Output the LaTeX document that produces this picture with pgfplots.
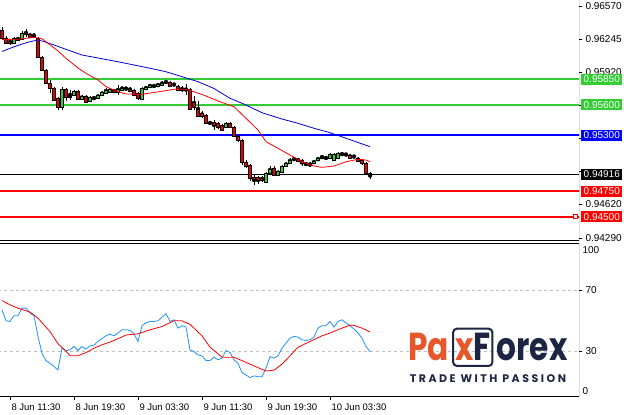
\documentclass[border=0pt]{standalone}
\usepackage{fontspec}
\setmainfont{Liberation Sans}
\newfontfamily\logofont{Poppins}[FakeStretch=0.8]
\newfontfamily\tagfont{Poppins}[LetterSpace=23]
\usepackage{pgfplots}
\usepackage{pgfplotstable}
\pgfplotsset{compat=1.18}

\definecolor{bull}{RGB}{50,205,50}
\definecolor{bear}{RGB}{230,0,0}
\definecolor{lvgreen}{RGB}{50,205,50}
\definecolor{lvblue}{RGB}{0,0,255}
\definecolor{lvred}{RGB}{255,0,0}
\definecolor{mablue}{RGB}{0,0,220}
\definecolor{oscblue}{RGB}{30,144,255}
\definecolor{paxorange}{RGB}{232,87,42}
\definecolor{paxnavy}{RGB}{28,37,65}

% M30 bars, index i = bar number
\pgfplotstableread{
i o h l c
0 0.96334 0.96364 0.96236 0.96256
1 0.96256 0.96275 0.96197 0.96206
2 0.96226 0.96246 0.96187 0.96206
3 0.96206 0.96265 0.96197 0.96256
4 0.96236 0.96265 0.96226 0.96246
5 0.96246 0.96324 0.96236 0.96305
6 0.96305 0.96344 0.96265 0.96295
7 0.96295 0.96305 0.96256 0.96265
8 0.96275 0.96305 0.96256 0.96265
9 0.96256 0.96265 0.96059 0.96069
10 0.96069 0.96079 0.95931 0.95941
11 0.95941 0.95951 0.95804 0.95813
12 0.95813 0.95843 0.95715 0.95764
13 0.95764 0.95774 0.95637 0.95646
14 0.95666 0.95676 0.95548 0.95578
15 0.95578 0.95774 0.95548 0.95754
16 0.95754 0.95764 0.95637 0.95676
17 0.95686 0.95745 0.95646 0.95676
18 0.95696 0.95745 0.95686 0.95735
19 0.95735 0.95745 0.95646 0.95656
20 0.95656 0.95696 0.95646 0.95686
21 0.95686 0.95696 0.95617 0.95627
22 0.95637 0.95686 0.95627 0.95676
23 0.95666 0.95686 0.95646 0.95666
24 0.95666 0.95705 0.95656 0.95696
25 0.95696 0.95735 0.95686 0.95725
26 0.95715 0.95764 0.95705 0.95745
27 0.95725 0.95764 0.95715 0.95754
28 0.95745 0.95754 0.95715 0.95725
29 0.95725 0.95794 0.95696 0.95754
30 0.95745 0.95784 0.95735 0.95764
31 0.95754 0.95774 0.95745 0.95754
32 0.95754 0.95774 0.95725 0.95735
33 0.95745 0.95754 0.95686 0.95696
34 0.95715 0.95725 0.95646 0.95666
35 0.95656 0.95774 0.95646 0.95764
36 0.95754 0.95784 0.95745 0.95774
37 0.95774 0.95804 0.95764 0.95794
38 0.95784 0.95804 0.95764 0.95794
39 0.95784 0.95813 0.95774 0.95804
40 0.95794 0.95833 0.95784 0.95813
41 0.95823 0.95843 0.95804 0.95823
42 0.95823 0.95833 0.95774 0.95784
43 0.95804 0.95813 0.95784 0.95804
44 0.95784 0.95794 0.95735 0.95745
45 0.95745 0.95784 0.95725 0.95754
46 0.95754 0.95804 0.95696 0.95764
47 0.95754 0.95764 0.95548 0.95558
48 0.95627 0.95686 0.95548 0.95578
49 0.95558 0.95637 0.95479 0.95489
50 0.95519 0.95538 0.95470 0.95489
51 0.95499 0.95509 0.95411 0.95420
52 0.95420 0.95440 0.95401 0.95420
53 0.95430 0.95450 0.95352 0.95401
54 0.95420 0.95430 0.95361 0.95381
55 0.95401 0.95411 0.95342 0.95352
56 0.95381 0.95430 0.95371 0.95420
57 0.95420 0.95430 0.95371 0.95381
58 0.95381 0.95391 0.95283 0.95293
59 0.95293 0.95302 0.95234 0.95253
60 0.95253 0.95263 0.95008 0.95037
61 0.95037 0.95057 0.94978 0.94998
62 0.95008 0.95018 0.94850 0.94880
63 0.94890 0.94909 0.94811 0.94870
64 0.94890 0.94900 0.94820 0.94860
65 0.94880 0.94900 0.94840 0.94860
66 0.94840 0.94939 0.94830 0.94929
67 0.94929 0.94998 0.94919 0.94968
68 0.94978 0.94998 0.94900 0.94909
69 0.94909 0.94959 0.94900 0.94949
70 0.94939 0.95008 0.94929 0.94998
71 0.94998 0.95037 0.94988 0.95027
72 0.95027 0.95076 0.95018 0.95057
73 0.95067 0.95086 0.95047 0.95067
74 0.95067 0.95076 0.95037 0.95047
75 0.95057 0.95067 0.94998 0.95027
76 0.95018 0.95037 0.94998 0.95018
77 0.95027 0.95037 0.94988 0.95008
78 0.95027 0.95057 0.95018 0.95047
79 0.95057 0.95086 0.95047 0.95076
80 0.95076 0.95106 0.95067 0.95086
81 0.95086 0.95096 0.95057 0.95086
82 0.95076 0.95126 0.95067 0.95116
83 0.95057 0.95126 0.95047 0.95116
84 0.95076 0.95135 0.95067 0.95126
85 0.95116 0.95135 0.95096 0.95116
86 0.95116 0.95126 0.95096 0.95106
87 0.95106 0.95116 0.95067 0.95076
88 0.95086 0.95106 0.95076 0.95086
89 0.95076 0.95086 0.95037 0.95047
90 0.95057 0.95067 0.95008 0.95027
91 0.95027 0.95037 0.94919 0.94929
92 0.94929 0.94939 0.94870 0.94916
}\candles

\pgfplotstableread{
i p
0 0.96241
4 0.96243
8 0.96262
10 0.96248
11 0.96219
14 0.96128
16 0.96056
19 0.95961
21 0.95908
24 0.95843
26 0.95777
29 0.95728
31 0.95705
35 0.95702
40 0.95732
43 0.95751
46 0.95751
48 0.95728
51 0.95685
55 0.95621
58 0.95580
61 0.95466
64 0.95351
66 0.95236
69 0.95171
72 0.95105
75 0.95039
78 0.94997
80 0.94984
83 0.94997
86 0.95039
89 0.95063
91 0.95056
92 0.95039
}\mafast

\pgfplotstableread{
i p
0 0.96123
2 0.96154
5 0.96196
7 0.96219
9 0.96236
10 0.96226
13 0.96187
16 0.96144
20 0.96088
24 0.96059
29 0.96022
33 0.95990
37 0.95958
41 0.95924
45 0.95875
49 0.95826
53 0.95759
57 0.95663
61 0.95597
65 0.95521
70 0.95459
74 0.95417
78 0.95368
82 0.95325
86 0.95270
92 0.95187
}\maslow

\pgfplotstableread{
i v
0 57
1 49.8
2 49.4
3 53.1
4 53.1
5 58.1
6 58.1
7 54.9
8 53.1
9 39.6
10 28.6
11 23.8
12 22
13 19.9
14 17.7
15 31.9
16 30.2
17 30.8
18 33
19 30.4
20 33
21 31.3
22 33.4
23 33.9
24 36.3
25 38.3
26 40
27 41.1
28 40
29 41.8
30 44
31 44
32 43.5
33 41.3
34 36.3
35 46.6
36 48.4
37 49.4
38 49.4
39 49.8
40 52.2
41 54.4
42 49.4
43 50.5
44 45
45 46.6
46 45.7
47 30.8
48 29.7
49 27.5
50 26.9
51 23.8
52 23.8
53 26
54 24.3
55 25.4
56 30.4
57 29.1
58 24.3
59 22
60 15.9
61 14.4
62 12.7
63 13.8
64 13.3
65 13.3
66 18.8
67 26.4
68 25.4
69 26.9
70 31.9
71 35.2
72 38.5
73 39.6
74 39.2
75 37.4
76 37
77 37.4
78 39.2
79 45
80 46.6
81 46.6
82 49.4
83 45.7
84 49.4
85 50.5
86 48.4
87 46.6
88 44.4
89 41.8
90 38.5
91 33
92 29.7
}\oscmain

\pgfplotstableread{
i v
0 63
2 60.3
4 58
7 55.5
9 51.5
12 42.8
14 34.8
16 30
17 27
19 27
21 29
23 31.9
25 34.1
28 36.9
31 40.5
34 41.3
37 43.9
40 46.1
43 49.8
45 49.8
47 47.5
50 40
52 32.6
55 26
58 26
60 23.8
63 20.3
66 17
68 17.5
70 21.5
72 26.9
74 32.5
77 36.3
80 40
82 41.8
84 44
87 47
88 46.8
90 45
92 42.5
}\oscsignal

\pgfplotsset{
  panel/.style={scale only axis, width=579pt, xmin=-0.5, xmax=144.25,
    axis line style={draw=none},
    tick label style={font=\fontsize{10}{12}\selectfont},
    tick style={black, line width=0.6pt},
    tick align=outside, major tick length=3pt},
  price/.style={panel, height=241pt, at={(0pt,174pt)}, anchor=south west,
    ymin=0.94260, ymax=0.96629},
}
\tikzset{lbl/.style={text=white, anchor=west, inner xsep=2.5pt, inner ysep=0pt,
    minimum height=11pt, font=\fontsize{10}{12}\selectfont}}

\begin{document}
\begin{tikzpicture}
\useasboundingbox (0,0) rectangle (624pt,415pt);

% price panel: levels, wicks, frame
\begin{axis}[price, xtick=\empty, ytick pos=right,
  ytick={0.9657,0.96245,0.9592,0.95595,0.9527,0.94945,0.9462,0.9429},
  yticklabels={0.96570,0.96245,0.95920,,0.95270,,0.94620,0.94290}]
\addplot[lvgreen, line width=2pt] coordinates {(-1,0.9585) (146,0.9585)};
\addplot[lvgreen, line width=2pt] coordinates {(-1,0.956) (146,0.956)};
\addplot[lvblue, line width=2pt] coordinates {(-1,0.953) (146,0.953)};
\addplot[black, line width=0.9pt] coordinates {(-1,0.94916) (146,0.94916)};
\addplot[lvred, line width=2pt] coordinates {(-1,0.9475) (146,0.9475)};
\addplot[lvred, line width=2pt] coordinates {(-1,0.945) (146,0.945)};
\addplot[only marks, mark=none,
  error bars/.cd, y dir=both, y explicit, error mark=none,
  error bar style={draw=black, line width=0.6pt}]
  table[x=i, y expr={(\thisrow{h}+\thisrow{l})/2},
        y error expr={(\thisrow{h}-\thisrow{l})/2}] {\candles};
\draw[black, line width=1pt] (rel axis cs:1,1) -- (rel axis cs:1,0) -- (rel axis cs:0,0);
\end{axis}

% candle bodies
\begin{axis}[price, hide axis, ybar stacked, bar width=0.72]
\addplot[draw=none, fill=none] table[x=i, y expr={min(\thisrow{o},\thisrow{c})}] {\candles};
\addplot[draw=black, fill=bull, line width=0.5pt] table[x=i, y expr={max(\thisrow{c}-\thisrow{o},0)}] {\candles};
\addplot[draw=black, fill=bear, line width=0.5pt] table[x=i, y expr={max(\thisrow{o}-\thisrow{c},0)}] {\candles};
\end{axis}

% moving averages and level labels
\begin{axis}[price, hide axis, clip=false]
\addplot[mablue, line width=0.8pt] table[x=i, y=p] {\maslow};
\addplot[lvred, line width=0.8pt] table[x=i, y=p] {\mafast};
\node[lbl, fill=lvgreen] at (axis cs:144.75,0.9585) {0.95850};
\node[lbl, fill=lvgreen] at (axis cs:144.75,0.956) {0.95600};
\node[lbl, fill=lvblue] at (axis cs:144.75,0.953) {0.95300};
\node[lbl, fill=black] at (axis cs:144.75,0.94916) {0.94916};
\node[lbl, fill=lvred] at (axis cs:144.75,0.9475) {0.94750};
\node[lbl, fill=lvred] at (axis cs:144.75,0.945) {0.94500};
\node[draw=lvred, fill=white, line width=0.8pt, minimum size=4pt, inner sep=0pt] at (axis cs:143.4,0.945) {};
\end{axis}

% oscillator panel
\begin{axis}[panel, height=153pt, at={(0pt,18pt)}, anchor=south west,
  ymin=0, ymax=100,
  xtick={2,18,34,50,66,82},
  xticklabels={8 Jun 11:30,8 Jun 19:30,9 Jun 03:30,9 Jun 11:30,9 Jun 19:30,10 Jun 03:30},
  xtick pos=left, xticklabel style={anchor=north west, xshift=-2pt, font=\fontsize{9.5}{11}\selectfont},
  ytick pos=right, ytick={30,70}, yticklabels={30,70},
  extra y ticks={4,96}, extra y tick labels={0,100},
  extra tick style={major tick length=0pt}]
\addplot[black!25, line width=0.7pt, dash pattern=on 3pt off 3pt] coordinates {(-1,30) (146,30)};
\addplot[black!25, line width=0.7pt, dash pattern=on 3pt off 3pt] coordinates {(-1,70) (146,70)};
\addplot[oscblue, line width=0.8pt] table[x=i, y=v] {\oscmain};
\addplot[lvred, line width=0.8pt] table[x=i, y=v] {\oscsignal};
\draw[black, line width=1pt] (rel axis cs:0,1) -- (rel axis cs:1,1) -- (rel axis cs:1,0) -- (rel axis cs:0,0);
\end{axis}

% watermark logo
\node[anchor=base west, inner sep=0pt, text=paxorange, font=\logofont\bfseries\fontsize{39}{39}\selectfont] (pa) at (408pt,54pt) {Pa};
\node[anchor=base west, draw=paxnavy, line width=2pt, rounded corners=4pt, inner xsep=2pt, inner ysep=5pt,
  text=paxnavy, font=\logofont\bfseries\fontsize{39}{39}\selectfont] (xf) at ([xshift=3pt]pa.base east) {\textcolor{paxorange}{x}F};
\node[anchor=base west, inner sep=0pt, text=paxnavy, font=\logofont\bfseries\fontsize{39}{39}\selectfont] at ([xshift=3pt]xf.base east) {orex};
\node[anchor=base, inner sep=0pt, text=paxnavy, font=\tagfont\bfseries\fontsize{11}{11}\selectfont] at (488pt,32pt) {TRADE WITH PASSION};
\end{tikzpicture}
\end{document}
